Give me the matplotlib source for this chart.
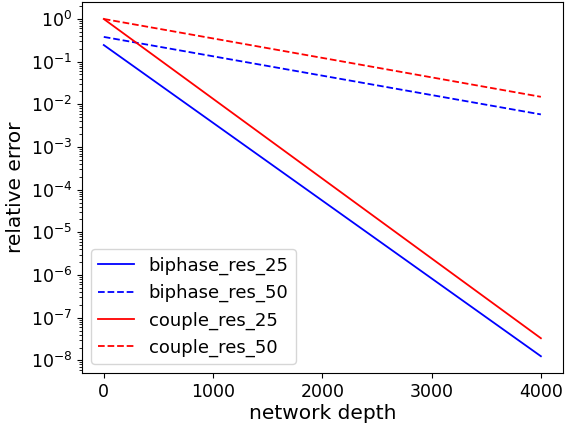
import numpy as np
import matplotlib.pyplot as plt
from matplotlib.ticker import LogLocator, NullFormatter

# profundidade da rede (so os extremos, as curvas sao retas em escala log)
depth = [0, 4000]

biphase_res_25 = [0.245, 1.25e-8]
biphase_res_50 = [0.38, 5.8e-3]
couple_res_25 = [1.0, 3.3e-8]
couple_res_50 = [1.0, 1.5e-2]

fig = plt.figure(figsize=(5.65, 4.23), dpi=100)
ax = fig.add_subplot(111)

ax.plot(depth, biphase_res_25, color="b", linestyle="-", linewidth=1.3, label="biphase_res_25")
ax.plot(depth, biphase_res_50, color="b", linestyle="--", linewidth=1.3, label="biphase_res_50")
ax.plot(depth, couple_res_25, color="r", linestyle="-", linewidth=1.3, label="couple_res_25")
ax.plot(depth, couple_res_50, color="r", linestyle="--", linewidth=1.3, label="couple_res_50")

ax.set_yscale("log")
ax.set_yticks([10.0**k for k in range(-8, 1)])
ax.yaxis.set_minor_locator(LogLocator(base=10, subs=np.arange(2, 10), numticks=100))
ax.yaxis.set_minor_formatter(NullFormatter())
ax.set_xticks([0, 1000, 2000, 3000, 4000])
ax.tick_params(labelsize=12.5)
ax.set_xlabel("network depth", fontsize=14.5, labelpad=2)
ax.set_ylabel("relative error", fontsize=14.5)
ax.legend(loc="lower left", fontsize=13)

plt.subplots_adjust(left=0.145, right=0.996, top=0.995, bottom=0.118)
plt.savefig("out.png")
